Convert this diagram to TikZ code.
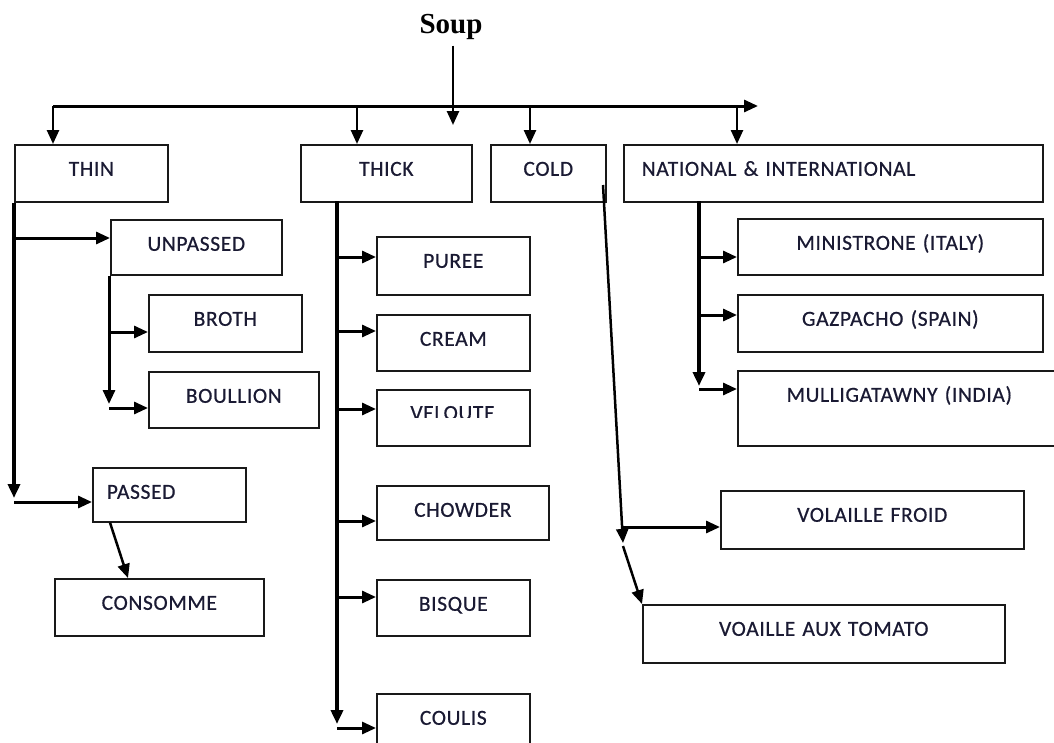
\documentclass[tikz,border=0pt]{standalone}
\usepackage{fontspec}
\newfontfamily\carl[FakeBold=0.6, LetterSpace=3]{Carlito}
\newfontfamily\lserif{Liberation Serif}
\usetikzlibrary{arrows.meta}
\definecolor{ink}{HTML}{1A1A33}
\begin{document}
\begin{tikzpicture}[x=1pt,y=-1pt,
  box/.style={draw=black!90, line width=1.6pt, inner sep=0pt, anchor=north west,
    font=\carl\fontsize{21.5}{24}\selectfont, text=ink, text height=31pt, align=center},
  lbox/.style={box, align=left},
  arr/.style={line width=3pt, -{Triangle[length=14pt,width=12pt]}},
  tarr/.style={arr, line width=4.5pt},
  lbl/.style={font=\carl\fontsize{21.5}{24}\selectfont, text=ink, anchor=base, inner sep=0pt}]
\useasboundingbox (0,0) rectangle (1054,742);

% title
\node[font=\lserif\bfseries\fontsize{29}{32}\selectfont, text=black, anchor=base] (soup) at (451,33) {Soup};

% first level
\node[box, text width=153pt, text depth=26pt] (thin) at (14,144) {THIN};
\node[box, text width=171pt, text depth=26pt] (thick) at (300,144) {THICK};
\node[box, text width=115pt, text depth=26pt] (cold) at (490,144) {COLD};
\node[lbox, text width=419pt, text depth=26pt] (nat) at (623,144) {\hspace*{18pt}NATIONAL \& INTERNATIONAL};

% thin branch
\node[box, text width=171pt, text depth=24pt] (unpassed) at (110,219) {UNPASSED};
\node[box, text width=153pt, text depth=26pt] (broth) at (148,294) {BROTH};
\node[box, text width=170pt, text depth=25pt] (boullion) at (148,371) {BOULLION};
\node[lbox, text width=153pt, text depth=23pt] (passed) at (92,467) {\hspace*{14pt}PASSED};
\node[box, text width=209pt, text depth=26pt] (consomme) at (54,578) {CONSOMME};

% thick branch
\node[box, text width=153pt, text depth=27pt] (puree) at (376,236) {PUREE};
\node[box, text width=153pt, text depth=25pt] (cream) at (376,314) {CREAM};
\node[box, text width=153pt, text depth=25pt] (veloute) at (376,389) {};
\begin{scope}
  \clip (376,395) rectangle (529,417.5);
  \node[lbl] (velt) at (452.5,420) {VELOUTE};
\end{scope}
\node[box, text width=172pt, text depth=23pt] (chowder) at (376,485) {CHOWDER};
\node[box, text width=153pt, text depth=25pt] (bisque) at (376,579) {BISQUE};
\node[box, text width=153pt, text depth=39pt] (coulis) at (376,693) {COULIS};

% national branch
\node[box, text width=305pt, text depth=25pt] (minis) at (737,218) {MINISTRONE (ITALY)};
\node[box, text width=305pt, text depth=26pt] (gazp) at (737,294) {GAZPACHO (SPAIN)};
\node[box, text width=323pt, text depth=44pt] (mull) at (737,370) {MULLIGATAWNY (INDIA)};

% cold branch
\node[box, text width=303pt, text depth=27pt] (volaille) at (720,490) {VOLAILLE FROID};
\node[box, text width=362pt, text depth=27pt] (voaille) at (642,604) {VOAILLE AUX TOMATO};

% soup arrow and top bar
\coordinate (soupend) at (453,125);
\draw[arr, line width=2.5pt] ([yshift=-3pt]soup.south -| soupend) -- (soupend);
\coordinate (bL) at (53,106);
\coordinate (bR) at (758,106);
\draw[arr] (bL) -- (bR);
\coordinate (b2) at (357,106);
\coordinate (b3) at (530,106);
\coordinate (b4) at (737,106);
\draw[arr, line width=2.5pt] (bL) -- (bL |- thin.north);
\draw[arr, line width=2.5pt] (b2) -- (b2 |- thick.north);
\draw[arr, line width=2.5pt] (b3) -- (b3 |- cold.north);
\draw[arr, line width=2.5pt] (b4) -- (b4 |- nat.north);

% thin connectors
\coordinate (tv) at (14,498);
\coordinate (th) at (14,502);
\coordinate (tu) at (14,238);
\draw[tarr] (thin.south west) -- (tv);
\draw[arr] (th) -- (th -| passed.west);
\draw[arr] (tu) -- (tu -| unpassed.west);
\coordinate (uv) at (109,404);
\coordinate (ub) at (109,332);
\coordinate (uo) at (109,408);
\draw[arr] ([xshift=-1pt]unpassed.south west) -- (uv);
\draw[arr] (ub) -- (ub -| broth.west);
\draw[arr] (uo) -- (uo -| boullion.west);
\draw[arr, line width=2.5pt] ([xshift=18pt]passed.south west) -- ([xshift=74pt]consomme.north west);

% thick connectors
\coordinate (k0) at (337,201);
\coordinate (kv) at (337,724);
\draw[arr, line width=3.5pt] (k0) -- (kv);
\foreach \y/\n in {257/puree, 331/cream, 409/veloute, 521/chowder, 597/bisque, 728/coulis}{
  \coordinate (kb) at (337,\y);
  \draw[arr] (kb) -- (kb -| \n.west);
}

% national connectors
\coordinate (n0) at (699,201);
\coordinate (nv) at (699,386);
\draw[arr, line width=3.5pt] (n0) -- (nv);
\foreach \y/\n in {257/minis, 315/gazp, 389/mull}{
  \coordinate (nb) at (699,\y);
  \draw[arr] (nb) -- (nb -| \n.west);
}

% cold connectors
\coordinate (c0) at (603,185);
\coordinate (c1) at (623,543);
\coordinate (c2) at (622,527);
\coordinate (c3) at (623,546);
\draw[arr, line width=2.5pt] (c0) -- (c1);
\draw[arr] (c2) -- (c2 -| volaille.west);
\draw[arr, line width=2.5pt] (c3) -- (voaille.north west);
\end{tikzpicture}
\end{document}
